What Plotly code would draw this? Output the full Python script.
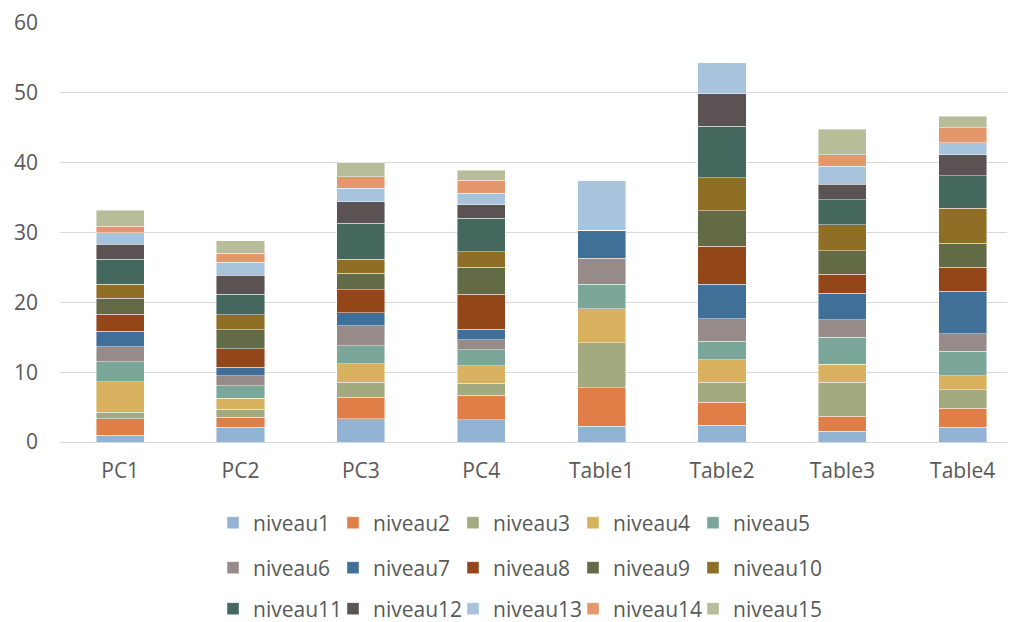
import plotly.graph_objects as go

categories = ["PC1", "PC2", "PC3", "PC4", "Table1", "Table2", "Table3", "Table4"]

niveau1 = [0.95, 2.14, 3.33, 3.19, 2.29, 2.38, 1.57, 2.14]
niveau2 = [2.38, 1.43, 3.10, 3.48, 5.47, 3.33, 2.14, 2.72]
niveau3 = [0.95, 1.14, 2.14, 1.76, 6.43, 2.86, 4.86, 2.62]
niveau4 = [4.33, 1.58, 2.62, 2.52, 4.86, 3.19, 2.53, 2.04]
niveau5 = [2.86, 1.76, 2.62, 2.24, 3.57, 2.67, 3.90, 3.48]
niveau6 = [2.19, 1.43, 2.86, 1.43, 3.71, 3.19, 2.48, 2.48]
niveau7 = [2.19, 1.23, 1.81, 1.52, 4.00, 5.00, 3.85, 6.09]
niveau8 = [2.43, 2.62, 3.33, 5.05, 0.00, 5.38, 2.67, 3.43]
niveau9 = [2.33, 2.72, 2.38, 3.81, 0.00, 5.14, 3.38, 3.48]
niveau10 = [2.00, 2.14, 1.95, 2.24, 0.00, 4.72, 3.76, 5.00]
niveau11 = [3.57, 3.00, 5.15, 4.81, 0.00, 7.38, 3.57, 4.62]
niveau12 = [2.14, 2.71, 3.14, 1.95, 0.00, 4.66, 2.19, 3.00]
niveau13 = [1.62, 1.81, 1.90, 1.62, 7.05, 4.39, 2.62, 1.76]
niveau14 = [0.95, 1.29, 1.62, 1.86, 0.00, 0.00, 1.62, 2.14]
niveau15 = [2.29, 1.81, 2.05, 1.42, 0.00, 0.00, 3.62, 1.67]

series_names = [f"niveau{i}" for i in range(1, 16)]
series_values = [niveau1, niveau2, niveau3, niveau4, niveau5, niveau6, niveau7,
                 niveau8, niveau9, niveau10, niveau11, niveau12, niveau13,
                 niveau14, niveau15]
colors = ["#93B3D4", "#DF7F47", "#A3AA7F", "#D8B25F", "#7BA69A",
          "#968B88", "#406F98", "#934719", "#636A46", "#8F6F25",
          "#45685E", "#5B5353", "#A8C4DC", "#E4976A", "#B7BC99"]

y_ticks = [0, 10, 20, 30, 40, 50, 60]

FONT = "Open Sans"
TXT = "#595959"

# page is drawn with an 8px body margin, so the figure is 8px smaller
W, H = 1007, 614
ML, MR, MT, MB = 52, 0, 15, 180
PW = W - ML - MR
PH = H - MT - MB
CAT_PX = 120.36  # pixel width of one category slot

fig = go.Figure()
legend_layout = {}
LEG_ROWS_PX = [515, 560, 601]  # row centres in figure pixels
row_y = [(H - MB - yp) / PH for yp in LEG_ROWS_PX]
col_x0 = (205 - ML) / PW
col_step = 120 / PW
for i, (name, vals, col) in enumerate(zip(series_names, series_values, colors)):
    key = "legend" if i == 0 else f"legend{i + 1}"
    fig.add_trace(go.Bar(
        name=name, x=categories, y=vals,
        marker=dict(color=col, line=dict(color="rgba(255,255,255,0.55)", width=0.8)),
        legend=key,
    ))
    r, c = divmod(i, 5)
    legend_layout[key] = dict(
        orientation="h", xanchor="left", yanchor="middle",
        x=col_x0 + c * col_step, y=row_y[r],
        font=dict(family=FONT, size=21, color=TXT),
        bgcolor="rgba(0,0,0,0)",
    )

fig.update_layout(
    width=W, height=H,
    margin=dict(l=ML, r=MR, t=MT, b=MB, autoexpand=False),
    barmode="stack",
    bargap=0.6,
    showlegend=True,
    plot_bgcolor="white",
    paper_bgcolor="white",
    font=dict(family=FONT, size=21, color=TXT),
    xaxis=dict(showgrid=False, showline=False, ticks="",
               range=[-0.5, -0.5 + PW / CAT_PX],
               ticklabelstandoff=14,
               tickfont=dict(family=FONT, size=21, color=TXT)),
    yaxis=dict(range=[0, 60], tickvals=y_ticks, showgrid=True,
               gridcolor="#D9D9D9", gridwidth=1, zeroline=True,
               zerolinecolor="#D9D9D9", zerolinewidth=1, showline=False,
               ticks="", ticklabelstandoff=21, ticklabeloverflow="allow",
               tickfont=dict(family=FONT, size=21, color=TXT)),
    **legend_layout,
)

fig.write_html("out.html")
